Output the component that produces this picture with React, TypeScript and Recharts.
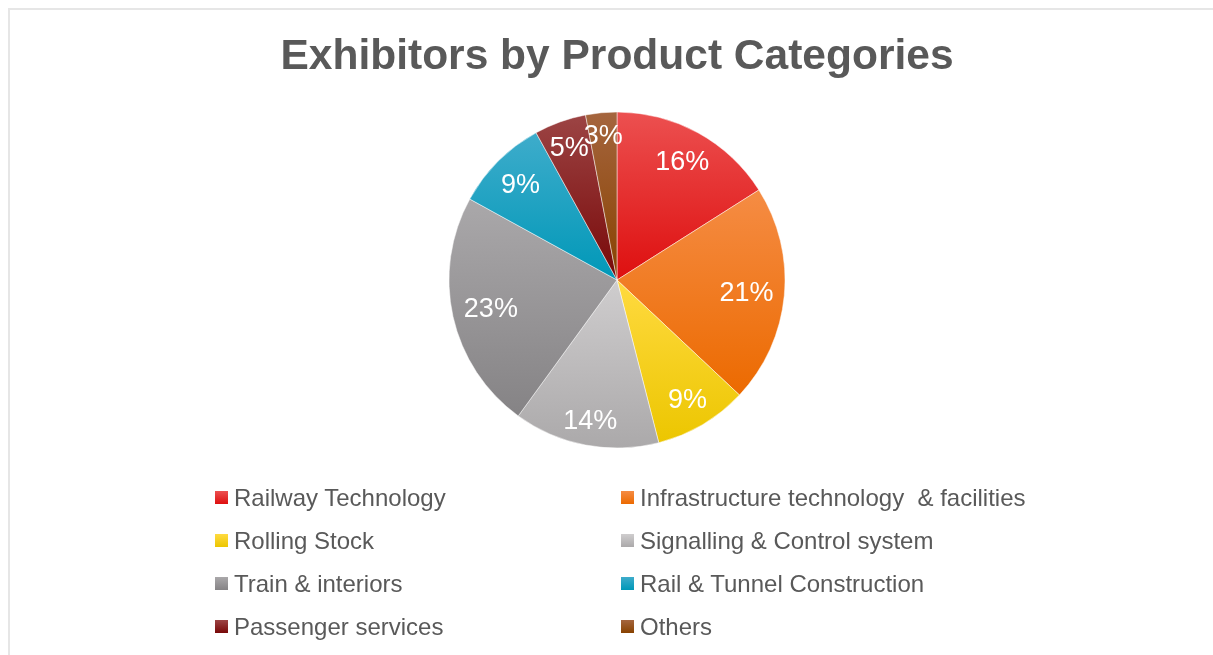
import { PieChart, Pie, Cell, Legend } from 'recharts';

const categories = [
  'Railway Technology',
  'Infrastructure technology  & facilities',
  'Rolling Stock',
  'Signalling & Control system',
  'Train & interiors',
  'Rail & Tunnel Construction',
  'Passenger services',
  'Others',
];

const shares = [16, 21, 9, 14, 23, 9, 5, 3];

const topColors = ['#ec5050', '#f58c44', '#ffda40', '#cfcdce', '#aaa8aa', '#3eaccb', '#9c4444', '#a5653e'];
const bottomColors = ['#de0f0f', '#ec6a00', '#ecc600', '#aba9aa', '#858385', '#0098b8', '#780808', '#884200'];

const data = categories.map((name, i) => ({ name, value: shares[i] }));

const FONT = '"Liberation Sans", Arial, Helvetica, sans-serif';
const RAD = Math.PI / 180;

/** White percentage label, pulled inward so its box stays inside the slice. */
function renderLabel(props: any) {
  const { cx, cy, midAngle, value } = props;
  const text = `${value}%`;
  const fontSize = 27;
  const w = ((text.length - 1) * 0.556 + 0.889) * fontSize;
  const ux = Math.cos(-midAngle * RAD);
  const uy = Math.sin(-midAngle * RAD);
  const extent = (w / 2) * Math.abs(ux) + 11 * Math.abs(uy);
  const r = 158 - extent;
  return (
    <text
      x={cx + r * ux}
      y={cy + r * uy}
      fill="#ffffff"
      fontSize={fontSize}
      fontFamily={FONT}
      textAnchor="middle"
      dominantBaseline="central"
    >
      {text}
    </text>
  );
}

function LegendGrid() {
  return (
    <div style={{ display: 'grid', gridTemplateColumns: '406px 420px', fontFamily: FONT }}>
      {categories.map((name, i) => (
        <div key={name} style={{ display: 'flex', alignItems: 'center', height: 43 }}>
          <span
            style={{
              width: 13,
              height: 13,
              marginRight: 6,
              background: `linear-gradient(${topColors[i]}, ${bottomColors[i]})`,
              flexShrink: 0,
            }}
          />
          <span style={{ fontSize: 24, color: '#595959', whiteSpace: 'pre' }}>{name}</span>
        </div>
      ))}
    </div>
  );
}

export default function App() {
  return (
    <div style={{ position: 'relative', width: 1197, height: 639, fontFamily: FONT, background: '#fff' }}>
      <div
        style={{
          position: 'fixed',
          left: 8,
          top: 8,
          width: 1300,
          height: 700,
          borderLeft: '2px solid #e6e6e6',
          borderTop: '2px solid #e6e6e6',
          pointerEvents: 'none',
        }}
      />
      <div
        style={{
          position: 'absolute',
          left: 609,
          top: 25,
          transform: 'translateX(-50%)',
          whiteSpace: 'nowrap',
          fontSize: 42.5,
          lineHeight: '43px',
          fontWeight: 'bold',
          color: '#595959',
        }}
      >
        Exhibitors by Product Categories
      </div>
      <PieChart width={1197} height={639} margin={{ top: 0, right: 0, bottom: 0, left: 0 }}>
        <defs>
          {categories.map((name, i) => (
            <linearGradient key={name} id={`slice${i}`} x1="0" y1="0" x2="0" y2="1">
              <stop offset="0%" stopColor={topColors[i]} />
              <stop offset="100%" stopColor={bottomColors[i]} />
            </linearGradient>
          ))}
        </defs>
        <Pie
          data={data}
          dataKey="value"
          nameKey="name"
          cx={609}
          cy={272}
          outerRadius={168}
          startAngle={90}
          endAngle={-270}
          stroke="rgba(255,255,255,0.6)"
          strokeWidth={0.8}
          label={renderLabel}
          labelLine={false}
          isAnimationActive={false}
        >
          {data.map((d, i) => (
            <Cell key={d.name} fill={`url(#slice${i})`} />
          ))}
        </Pie>
        <Legend
          content={() => <LegendGrid />}
          wrapperStyle={{ position: 'absolute', left: 207, top: 468, width: 830, bottom: 'auto' }}
        />
      </PieChart>
    </div>
  );
}
